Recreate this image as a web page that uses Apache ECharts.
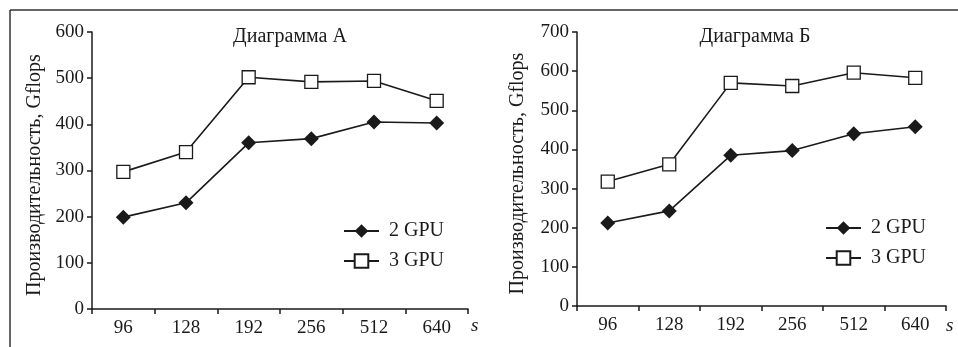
<!DOCTYPE html>
<html>
<head>
<meta charset="utf-8">
<script src="https://cdn.jsdelivr.net/npm/echarts@6/dist/echarts.min.js"></script>
<style>
  html, body { margin: 0; padding: 0; background: #fff; }
  #chart { width: 958px; height: 347px; }
</style>
</head>
<body>
<div id="chart"></div>
<script>
// размеры задачи
const sizes = ["96", "128", "192", "256", "512", "640"];

// Диаграмма А
const gpu2A = [199, 230, 360, 369, 405, 403];
const gpu3A = [297, 340, 502, 492, 494, 451];

// Диаграмма Б
const gpu2B = [212, 243, 385, 397, 440, 458];
const gpu3B = [318, 362, 570, 562, 596, 583];

const font = "Liberation Serif";
const ink = "#1a1a1a";

function makeY(gridIndex, max, gap) {
  return {
    type: "value",
    gridIndex,
    min: 0,
    max,
    interval: 100,
    name: "Производительность, Gflops",
    nameLocation: "middle",
    nameGap: gap,
    nameTextStyle: { fontFamily: font, fontSize: 20, color: ink, padding: [0, 9, 0, 0] },
    axisLine: { show: true, lineStyle: { color: ink, width: 1.5 } },
    axisTick: { show: true, length: 5, lineStyle: { color: ink, width: 1.5 } },
    axisLabel: { fontFamily: font, fontSize: 19, color: ink, margin: 8 },
    splitLine: { show: false }
  };
}

function makeX(gridIndex) {
  return {
    type: "category",
    gridIndex,
    data: sizes,
    boundaryGap: true,
    axisLine: { lineStyle: { color: ink, width: 1.5 } },
    axisTick: { show: true, length: 5, lineStyle: { color: ink, width: 1.5 } },
    axisLabel: { fontFamily: font, fontSize: 19, color: ink, margin: 10 },
    splitLine: { show: false }
  };
}

function gpu2(data, idx) {
  return {
    name: "2 GPU",
    type: "line",
    xAxisIndex: idx,
    yAxisIndex: idx,
    data,
    symbol: "diamond",
    symbolSize: 15,
    lineStyle: { color: ink, width: 1.6 },
    itemStyle: { color: ink, borderColor: ink, borderWidth: 0 },
    emphasis: { disabled: true },
    animation: false
  };
}

function gpu3(data, idx) {
  return {
    name: "3 GPU",
    type: "line",
    xAxisIndex: idx,
    yAxisIndex: idx,
    data,
    symbol: "rect",
    symbolSize: 13,
    lineStyle: { color: ink, width: 1.6 },
    itemStyle: { color: "#fff", borderColor: ink, borderWidth: 1.3 },
    emphasis: { disabled: true },
    animation: false
  };
}

const legendBase = {
  orient: "vertical",
  data: ["2 GPU", "3 GPU"],
  itemWidth: 35,
  itemHeight: 17,
  itemGap: 10,
  padding: 0,
  textStyle: { fontFamily: font, fontSize: 20, color: ink, padding: [0, 0, 0, 5] },
  selectedMode: false
};

const chart = echarts.init(document.getElementById("chart"));
chart.setOption({
  backgroundColor: "#fff",
  animation: false,
  title: [
    {
      text: "Диаграмма А",
      left: 290, top: 27, textAlign: "center", padding: 0,
      textStyle: { fontFamily: font, fontSize: 20, fontWeight: "normal", color: ink }
    },
    {
      text: "Диаграмма Б",
      left: 755, top: 27, textAlign: "center", padding: 0,
      textStyle: { fontFamily: font, fontSize: 20, fontWeight: "normal", color: ink }
    }
  ],
  legend: [
    Object.assign({}, legendBase, { left: 343, top: 221 }),
    Object.assign({}, legendBase, { left: 825, top: 218 })
  ],
  grid: [
    { left: 92, top: 32, width: 376, height: 277 },
    { left: 577, top: 32, width: 369, height: 274 }
  ],
  xAxis: [makeX(0), makeX(1)],
  yAxis: [makeY(0, 600, 47), makeY(1, 700, 49)],
  series: [gpu2(gpu2A, 0), gpu3(gpu3A, 0), gpu2(gpu2B, 1), gpu3(gpu3B, 1)],
  graphic: [
    { type: "line", shape: { x1: 10, y1: 10, x2: 958, y2: 10 }, style: { stroke: "#333", lineWidth: 1.5 } },
    { type: "line", shape: { x1: 10, y1: 10, x2: 10, y2: 347 }, style: { stroke: "#333", lineWidth: 1.5 } },
    { type: "text", left: 471, top: 316, style: { text: "s", font: "italic 19px 'Liberation Serif'", fill: ink } },
    { type: "text", left: 946, top: 316, style: { text: "s", font: "italic 19px 'Liberation Serif'", fill: ink } }
  ]
});
</script>
</body>
</html>
